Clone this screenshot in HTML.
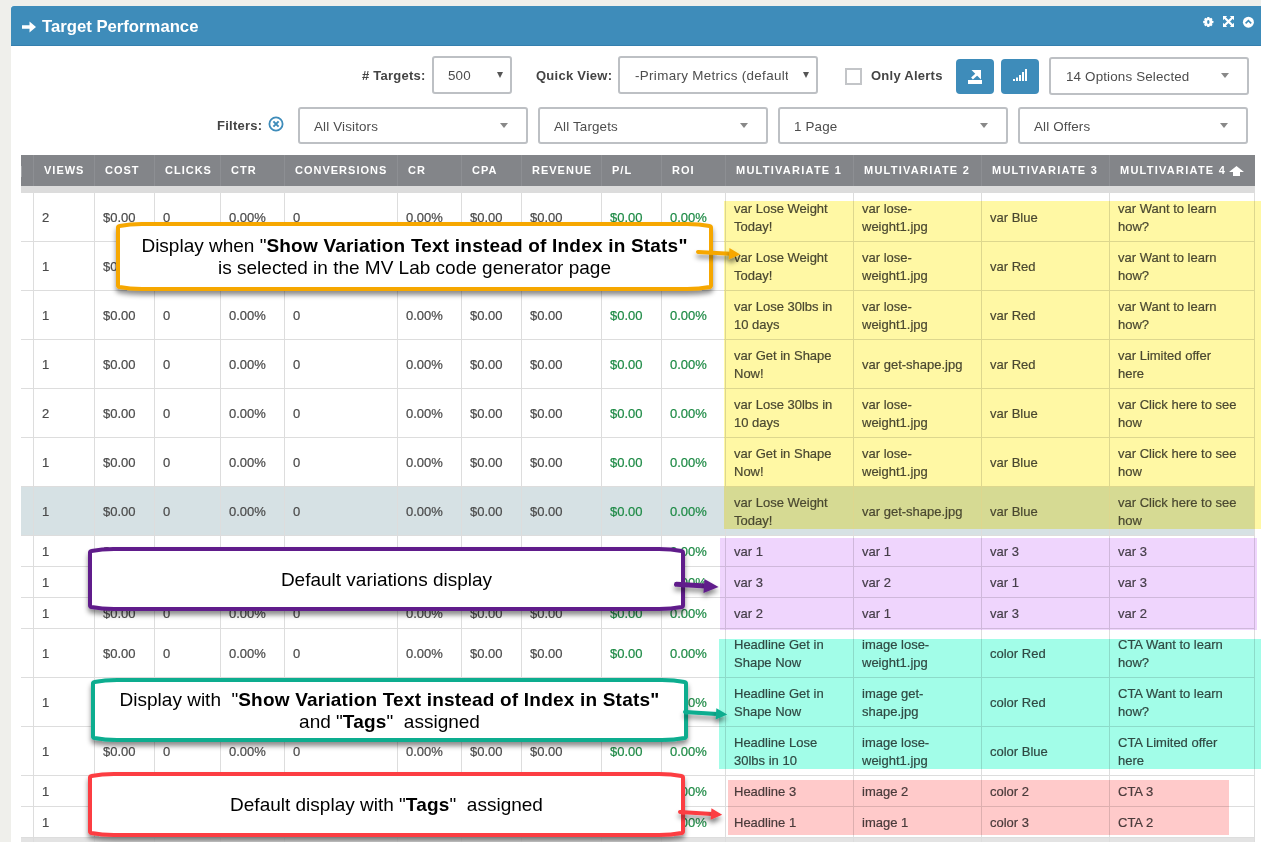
<!DOCTYPE html>
<html><head><meta charset="utf-8"><title>Target Performance</title>
<style>
*{box-sizing:border-box;margin:0;padding:0}
html,body{width:1261px;height:842px;overflow:hidden;background:#efefeb;font-family:"Liberation Sans",Arial,sans-serif;}
.abs{position:absolute}
#panel{position:absolute;left:11px;top:6px;width:1250px;height:836px;background:#fff}
#hdr{position:absolute;left:11px;top:6px;width:1250px;height:40px;background:#3e8cba;border-radius:3px 0 0 0;border-bottom:1px solid #357fae}
#title{position:absolute;left:42px;top:17px;color:#fff;font-weight:bold;font-size:16.7px;line-height:20px;white-space:nowrap}
.lbl{position:absolute;font-weight:bold;font-size:13px;color:#444;white-space:nowrap;line-height:16px;letter-spacing:0.25px}
.sel{position:absolute;border:2px solid #bdc0c4;border-radius:3px;background:#fff;font-size:13.4px;color:#4d4d4d;white-space:nowrap;overflow:hidden;line-height:16px}
.sel span{position:absolute;top:10px;letter-spacing:0.15px}
.caret{position:absolute;width:0;height:0;border-left:4px solid transparent;border-right:4px solid transparent;border-top:5px solid #888}
.caret2{position:absolute;width:0;height:0;border-left:3.5px solid transparent;border-right:3.5px solid transparent;border-top:6px solid #555}
.btn{position:absolute;background:#3e8cba;border-radius:4px}
#thead{position:absolute;left:21px;top:155px;width:1234px;height:31px;background:#838589}
#strip{position:absolute;left:21px;top:186px;width:1234px;height:7px;background:#dcdcdc}
.th{position:absolute;top:155px;height:31px;line-height:31px;color:#fff;font-weight:bold;font-size:11px;letter-spacing:1px;white-space:nowrap}
.hsep{position:absolute;top:155px;width:1px;height:31px;background:#8d8f93}
.vl{position:absolute;width:1px;background:#dddddd}
.hl{position:absolute;height:1px;background:#dddddd}
.td{position:absolute;display:flex;align-items:center;font-size:13px;line-height:18px;color:#4a4a4a;white-space:nowrap;-webkit-text-stroke:0.2px}
.g{color:#1d8a45}
.ov{position:absolute;mix-blend-mode:multiply}
.co{position:absolute;text-align:center;color:#000;font-size:19px;line-height:22px;white-space:nowrap}
.co b{font-weight:bold;letter-spacing:0.2px}
</style></head><body>
<div id="panel"></div>
<div id="hdr"></div>

<svg class="abs" style="left:21px;top:20px" width="17" height="14" viewBox="0 0 17 14">
<path d="M1 5.2 H8.5 V1.5 L15 7 L8.5 12.5 V8.8 H1 Z" fill="#fff"/></svg>
<div id="title">Target Performance</div>
<svg class="abs" style="left:1202px;top:16px" width="13" height="13" viewBox="0 0 13 13">
<g fill="#fff"><circle cx="6.3" cy="6" r="3.9"/>
<rect x="5.1" y="0.9" width="2.4" height="10.2" rx="0.5"/>
<rect x="5.1" y="0.9" width="2.4" height="10.2" rx="0.5" transform="rotate(45 6.3 6)"/>
<rect x="5.1" y="0.9" width="2.4" height="10.2" rx="0.5" transform="rotate(90 6.3 6)"/>
<rect x="5.1" y="0.9" width="2.4" height="10.2" rx="0.5" transform="rotate(135 6.3 6)"/></g>
<ellipse cx="6.3" cy="6" rx="1.2" ry="1.9" fill="#3e8cba"/></svg>
<svg class="abs" style="left:1223px;top:16px" width="11" height="11" viewBox="0 0 11 11">
<g fill="#fff"><path d="M0 0 H4.2 L0 4.2Z"/><path d="M11 0 V4.2 L6.8 0Z"/><path d="M0 11 V6.8 L4.2 11Z"/><path d="M11 11 H6.8 L11 6.8Z"/></g>
<path d="M1.5 1.5 L9.5 9.5 M9.5 1.5 L1.5 9.5" stroke="#fff" stroke-width="2.3"/></svg>
<svg class="abs" style="left:1242px;top:16px" width="13" height="13" viewBox="0 0 13 13">
<circle cx="6.4" cy="6.2" r="5.5" fill="#fff"/>
<path d="M3.6 7.4 L6.4 4.6 L9.2 7.4" stroke="#3e8cba" stroke-width="1.6" fill="none"/></svg>

<div class="lbl" style="left:362px;top:68px"># Targets:</div>
<div class="sel" style="left:432px;top:56px;width:80px;height:38px"><span style="left:14px">500</span></div>
<div class="caret2" style="left:497px;top:72px"></div>
<div class="lbl" style="left:536px;top:68px">Quick View:</div>
<div class="sel" style="left:618px;top:56px;width:200px;height:38px"><span style="left:15px;width:153px;overflow:hidden;letter-spacing:0.33px">-Primary Metrics (default)</span></div>
<div class="caret2" style="left:803px;top:72px"></div>
<div class="abs" style="left:845px;top:68px;width:17px;height:17px;border:2px solid #c3c5c8;background:#fff"></div>
<div class="lbl" style="left:871px;top:68px">Only Alerts</div>
<div class="btn" style="left:956px;top:59px;width:38px;height:35px"></div>
<svg class="abs" style="left:966px;top:67px" width="18" height="18" viewBox="0 0 18 18">
<path d="M2 13 H16 V17 H2Z" fill="#fff"/><path d="M5.5 3 H15 V12.5Z" fill="#fff"/>
<path d="M11.5 6.5 L6 11.5" stroke="#fff" stroke-width="2.6"/></svg>
<div class="btn" style="left:1001px;top:59px;width:38px;height:35px"></div>
<svg class="abs" style="left:1012px;top:68px" width="16" height="14" viewBox="0 0 16 14">
<g fill="#fff"><rect x="1" y="11" width="2" height="2"/><rect x="4" y="9.5" width="2" height="3.5"/>
<rect x="7" y="7" width="2" height="6"/><rect x="10" y="4" width="2" height="9"/><rect x="13" y="1" width="2" height="12"/></g></svg>

<div class="sel" style="left:1049px;top:57px;width:200px;height:38px"><span style="left:15px">14 Options Selected</span></div>
<div class="caret" style="left:1221px;top:73px"></div>
<div class="lbl" style="left:217px;top:118px">Filters:</div>
<svg class="abs" style="left:268px;top:116px" width="16" height="16" viewBox="0 0 16 16">
<circle cx="8" cy="8" r="6.6" stroke="#3e8cba" stroke-width="1.8" fill="none"/>
<path d="M5.4 5.4 L10.6 10.6 M10.6 5.4 L5.4 10.6" stroke="#3e8cba" stroke-width="2"/></svg>
<div class="sel" style="left:298px;top:107px;width:230px;height:37px"><span style="left:14px">All Visitors</span></div>
<div class="caret" style="left:500px;top:123px"></div>
<div class="sel" style="left:538px;top:107px;width:230px;height:37px"><span style="left:14px">All Targets</span></div>
<div class="caret" style="left:740px;top:123px"></div>
<div class="sel" style="left:778px;top:107px;width:230px;height:37px"><span style="left:14px">1 Page</span></div>
<div class="caret" style="left:980px;top:123px"></div>
<div class="sel" style="left:1018px;top:107px;width:230px;height:37px"><span style="left:14px">All Offers</span></div>
<div class="caret" style="left:1220px;top:123px"></div>
<div id="thead"></div><div id="strip"></div><div class="abs" style="left:21px;top:166px;width:1px;height:11px;background:#a3a5a8"></div>
<div class="hsep" style="left:33px"></div>
<div class="hsep" style="left:94px"></div>
<div class="hsep" style="left:154px"></div>
<div class="hsep" style="left:220px"></div>
<div class="hsep" style="left:284px"></div>
<div class="hsep" style="left:397px"></div>
<div class="hsep" style="left:461px"></div>
<div class="hsep" style="left:521px"></div>
<div class="hsep" style="left:601px"></div>
<div class="hsep" style="left:661px"></div>
<div class="hsep" style="left:725px"></div>
<div class="hsep" style="left:853px"></div>
<div class="hsep" style="left:981px"></div>
<div class="hsep" style="left:1109px"></div>
<div class="th" style="left:44px">VIEWS</div>
<div class="th" style="left:105px">COST</div>
<div class="th" style="left:165px">CLICKS</div>
<div class="th" style="left:231px">CTR</div>
<div class="th" style="left:295px">CONVERSIONS</div>
<div class="th" style="left:408px">CR</div>
<div class="th" style="left:472px">CPA</div>
<div class="th" style="left:532px">REVENUE</div>
<div class="th" style="left:612px">P/L</div>
<div class="th" style="left:672px">ROI</div>
<div class="th" style="left:736px;letter-spacing:1.25px">MULTIVARIATE 1</div>
<div class="th" style="left:864px;letter-spacing:1.25px">MULTIVARIATE 2</div>
<div class="th" style="left:992px;letter-spacing:1.25px">MULTIVARIATE 3</div>
<div class="th" style="left:1120px;letter-spacing:1.25px">MULTIVARIATE 4</div>
<svg class="abs" style="left:1229px;top:166px" width="15" height="10" viewBox="0 0 15 10">
<path d="M7.5 0 L15 6 H11 V10 H4 V6 H0Z" fill="#fff"/></svg>
<div class="abs" style="left:21px;top:487px;width:1233px;height:48px;background:#d6e1e4"></div>
<div class="abs" style="left:21px;top:837px;width:1234px;height:5px;background:#e3e3e3"></div>
<div class="hl" style="left:21px;top:241px;width:1234px"></div>
<div class="hl" style="left:21px;top:290px;width:1234px"></div>
<div class="hl" style="left:21px;top:339px;width:1234px"></div>
<div class="hl" style="left:21px;top:388px;width:1234px"></div>
<div class="hl" style="left:21px;top:437px;width:1234px"></div>
<div class="hl" style="left:21px;top:486px;width:1234px"></div>
<div class="hl" style="left:21px;top:535px;width:1234px"></div>
<div class="hl" style="left:21px;top:566px;width:1234px"></div>
<div class="hl" style="left:21px;top:597px;width:1234px"></div>
<div class="hl" style="left:21px;top:628px;width:1234px"></div>
<div class="hl" style="left:21px;top:677px;width:1234px"></div>
<div class="hl" style="left:21px;top:726px;width:1234px"></div>
<div class="hl" style="left:21px;top:775px;width:1234px"></div>
<div class="hl" style="left:21px;top:806px;width:1234px"></div>
<div class="hl" style="left:21px;top:837px;width:1234px"></div>
<div class="vl" style="left:33px;top:192px;height:650px"></div>
<div class="vl" style="left:94px;top:192px;height:650px"></div>
<div class="vl" style="left:154px;top:192px;height:650px"></div>
<div class="vl" style="left:220px;top:192px;height:650px"></div>
<div class="vl" style="left:284px;top:192px;height:650px"></div>
<div class="vl" style="left:397px;top:192px;height:650px"></div>
<div class="vl" style="left:461px;top:192px;height:650px"></div>
<div class="vl" style="left:521px;top:192px;height:650px"></div>
<div class="vl" style="left:601px;top:192px;height:650px"></div>
<div class="vl" style="left:661px;top:192px;height:650px"></div>
<div class="vl" style="left:725px;top:192px;height:650px"></div>
<div class="vl" style="left:853px;top:192px;height:650px"></div>
<div class="vl" style="left:981px;top:192px;height:650px"></div>
<div class="vl" style="left:1109px;top:192px;height:650px"></div>
<div class="vl" style="left:1254px;top:192px;height:650px"></div>
<div class="td" style="left:42px;top:194px;height:48px">2</div>
<div class="td" style="left:103px;top:194px;height:48px">$0.00</div>
<div class="td" style="left:163px;top:194px;height:48px">0</div>
<div class="td" style="left:229px;top:194px;height:48px">0.00%</div>
<div class="td" style="left:293px;top:194px;height:48px">0</div>
<div class="td" style="left:406px;top:194px;height:48px">0.00%</div>
<div class="td" style="left:470px;top:194px;height:48px">$0.00</div>
<div class="td" style="left:530px;top:194px;height:48px">$0.00</div>
<div class="td g" style="left:610px;top:194px;height:48px">$0.00</div>
<div class="td g" style="left:670px;top:194px;height:48px">0.00%</div>
<div class="td" style="left:734px;top:194px;height:48px">var Lose Weight<br>Today!</div>
<div class="td" style="left:862px;top:194px;height:48px">var lose-<br>weight1.jpg</div>
<div class="td" style="left:990px;top:194px;height:48px">var Blue</div>
<div class="td" style="left:1118px;top:194px;height:48px">var Want to learn<br>how?</div>
<div class="td" style="left:42px;top:243px;height:48px">1</div>
<div class="td" style="left:103px;top:243px;height:48px">$0.00</div>
<div class="td" style="left:163px;top:243px;height:48px">0</div>
<div class="td" style="left:229px;top:243px;height:48px">0.00%</div>
<div class="td" style="left:293px;top:243px;height:48px">0</div>
<div class="td" style="left:406px;top:243px;height:48px">0.00%</div>
<div class="td" style="left:470px;top:243px;height:48px">$0.00</div>
<div class="td" style="left:530px;top:243px;height:48px">$0.00</div>
<div class="td g" style="left:610px;top:243px;height:48px">$0.00</div>
<div class="td g" style="left:670px;top:243px;height:48px">0.00%</div>
<div class="td" style="left:734px;top:243px;height:48px">var Lose Weight<br>Today!</div>
<div class="td" style="left:862px;top:243px;height:48px">var lose-<br>weight1.jpg</div>
<div class="td" style="left:990px;top:243px;height:48px">var Red</div>
<div class="td" style="left:1118px;top:243px;height:48px">var Want to learn<br>how?</div>
<div class="td" style="left:42px;top:292px;height:48px">1</div>
<div class="td" style="left:103px;top:292px;height:48px">$0.00</div>
<div class="td" style="left:163px;top:292px;height:48px">0</div>
<div class="td" style="left:229px;top:292px;height:48px">0.00%</div>
<div class="td" style="left:293px;top:292px;height:48px">0</div>
<div class="td" style="left:406px;top:292px;height:48px">0.00%</div>
<div class="td" style="left:470px;top:292px;height:48px">$0.00</div>
<div class="td" style="left:530px;top:292px;height:48px">$0.00</div>
<div class="td g" style="left:610px;top:292px;height:48px">$0.00</div>
<div class="td g" style="left:670px;top:292px;height:48px">0.00%</div>
<div class="td" style="left:734px;top:292px;height:48px">var Lose 30lbs in<br>10 days</div>
<div class="td" style="left:862px;top:292px;height:48px">var lose-<br>weight1.jpg</div>
<div class="td" style="left:990px;top:292px;height:48px">var Red</div>
<div class="td" style="left:1118px;top:292px;height:48px">var Want to learn<br>how?</div>
<div class="td" style="left:42px;top:341px;height:48px">1</div>
<div class="td" style="left:103px;top:341px;height:48px">$0.00</div>
<div class="td" style="left:163px;top:341px;height:48px">0</div>
<div class="td" style="left:229px;top:341px;height:48px">0.00%</div>
<div class="td" style="left:293px;top:341px;height:48px">0</div>
<div class="td" style="left:406px;top:341px;height:48px">0.00%</div>
<div class="td" style="left:470px;top:341px;height:48px">$0.00</div>
<div class="td" style="left:530px;top:341px;height:48px">$0.00</div>
<div class="td g" style="left:610px;top:341px;height:48px">$0.00</div>
<div class="td g" style="left:670px;top:341px;height:48px">0.00%</div>
<div class="td" style="left:734px;top:341px;height:48px">var Get in Shape<br>Now!</div>
<div class="td" style="left:862px;top:341px;height:48px">var get-shape.jpg</div>
<div class="td" style="left:990px;top:341px;height:48px">var Red</div>
<div class="td" style="left:1118px;top:341px;height:48px">var Limited offer<br>here</div>
<div class="td" style="left:42px;top:390px;height:48px">2</div>
<div class="td" style="left:103px;top:390px;height:48px">$0.00</div>
<div class="td" style="left:163px;top:390px;height:48px">0</div>
<div class="td" style="left:229px;top:390px;height:48px">0.00%</div>
<div class="td" style="left:293px;top:390px;height:48px">0</div>
<div class="td" style="left:406px;top:390px;height:48px">0.00%</div>
<div class="td" style="left:470px;top:390px;height:48px">$0.00</div>
<div class="td" style="left:530px;top:390px;height:48px">$0.00</div>
<div class="td g" style="left:610px;top:390px;height:48px">$0.00</div>
<div class="td g" style="left:670px;top:390px;height:48px">0.00%</div>
<div class="td" style="left:734px;top:390px;height:48px">var Lose 30lbs in<br>10 days</div>
<div class="td" style="left:862px;top:390px;height:48px">var lose-<br>weight1.jpg</div>
<div class="td" style="left:990px;top:390px;height:48px">var Blue</div>
<div class="td" style="left:1118px;top:390px;height:48px">var Click here to see<br>how</div>
<div class="td" style="left:42px;top:439px;height:48px">1</div>
<div class="td" style="left:103px;top:439px;height:48px">$0.00</div>
<div class="td" style="left:163px;top:439px;height:48px">0</div>
<div class="td" style="left:229px;top:439px;height:48px">0.00%</div>
<div class="td" style="left:293px;top:439px;height:48px">0</div>
<div class="td" style="left:406px;top:439px;height:48px">0.00%</div>
<div class="td" style="left:470px;top:439px;height:48px">$0.00</div>
<div class="td" style="left:530px;top:439px;height:48px">$0.00</div>
<div class="td g" style="left:610px;top:439px;height:48px">$0.00</div>
<div class="td g" style="left:670px;top:439px;height:48px">0.00%</div>
<div class="td" style="left:734px;top:439px;height:48px">var Get in Shape<br>Now!</div>
<div class="td" style="left:862px;top:439px;height:48px">var lose-<br>weight1.jpg</div>
<div class="td" style="left:990px;top:439px;height:48px">var Blue</div>
<div class="td" style="left:1118px;top:439px;height:48px">var Click here to see<br>how</div>
<div class="td" style="left:42px;top:488px;height:48px">1</div>
<div class="td" style="left:103px;top:488px;height:48px">$0.00</div>
<div class="td" style="left:163px;top:488px;height:48px">0</div>
<div class="td" style="left:229px;top:488px;height:48px">0.00%</div>
<div class="td" style="left:293px;top:488px;height:48px">0</div>
<div class="td" style="left:406px;top:488px;height:48px">0.00%</div>
<div class="td" style="left:470px;top:488px;height:48px">$0.00</div>
<div class="td" style="left:530px;top:488px;height:48px">$0.00</div>
<div class="td g" style="left:610px;top:488px;height:48px">$0.00</div>
<div class="td g" style="left:670px;top:488px;height:48px">0.00%</div>
<div class="td" style="left:734px;top:488px;height:48px">var Lose Weight<br>Today!</div>
<div class="td" style="left:862px;top:488px;height:48px">var get-shape.jpg</div>
<div class="td" style="left:990px;top:488px;height:48px">var Blue</div>
<div class="td" style="left:1118px;top:488px;height:48px">var Click here to see<br>how</div>
<div class="td" style="left:42px;top:537px;height:30px">1</div>
<div class="td" style="left:103px;top:537px;height:30px">$0.00</div>
<div class="td" style="left:163px;top:537px;height:30px">0</div>
<div class="td" style="left:229px;top:537px;height:30px">0.00%</div>
<div class="td" style="left:293px;top:537px;height:30px">0</div>
<div class="td" style="left:406px;top:537px;height:30px">0.00%</div>
<div class="td" style="left:470px;top:537px;height:30px">$0.00</div>
<div class="td" style="left:530px;top:537px;height:30px">$0.00</div>
<div class="td g" style="left:610px;top:537px;height:30px">$0.00</div>
<div class="td g" style="left:670px;top:537px;height:30px">0.00%</div>
<div class="td" style="left:734px;top:537px;height:30px">var 1</div>
<div class="td" style="left:862px;top:537px;height:30px">var 1</div>
<div class="td" style="left:990px;top:537px;height:30px">var 3</div>
<div class="td" style="left:1118px;top:537px;height:30px">var 3</div>
<div class="td" style="left:42px;top:568px;height:30px">1</div>
<div class="td" style="left:103px;top:568px;height:30px">$0.00</div>
<div class="td" style="left:163px;top:568px;height:30px">0</div>
<div class="td" style="left:229px;top:568px;height:30px">0.00%</div>
<div class="td" style="left:293px;top:568px;height:30px">0</div>
<div class="td" style="left:406px;top:568px;height:30px">0.00%</div>
<div class="td" style="left:470px;top:568px;height:30px">$0.00</div>
<div class="td" style="left:530px;top:568px;height:30px">$0.00</div>
<div class="td g" style="left:610px;top:568px;height:30px">$0.00</div>
<div class="td g" style="left:670px;top:568px;height:30px">0.00%</div>
<div class="td" style="left:734px;top:568px;height:30px">var 3</div>
<div class="td" style="left:862px;top:568px;height:30px">var 2</div>
<div class="td" style="left:990px;top:568px;height:30px">var 1</div>
<div class="td" style="left:1118px;top:568px;height:30px">var 3</div>
<div class="td" style="left:42px;top:599px;height:30px">1</div>
<div class="td" style="left:103px;top:599px;height:30px">$0.00</div>
<div class="td" style="left:163px;top:599px;height:30px">0</div>
<div class="td" style="left:229px;top:599px;height:30px">0.00%</div>
<div class="td" style="left:293px;top:599px;height:30px">0</div>
<div class="td" style="left:406px;top:599px;height:30px">0.00%</div>
<div class="td" style="left:470px;top:599px;height:30px">$0.00</div>
<div class="td" style="left:530px;top:599px;height:30px">$0.00</div>
<div class="td g" style="left:610px;top:599px;height:30px">$0.00</div>
<div class="td g" style="left:670px;top:599px;height:30px">0.00%</div>
<div class="td" style="left:734px;top:599px;height:30px">var 2</div>
<div class="td" style="left:862px;top:599px;height:30px">var 1</div>
<div class="td" style="left:990px;top:599px;height:30px">var 3</div>
<div class="td" style="left:1118px;top:599px;height:30px">var 2</div>
<div class="td" style="left:42px;top:630px;height:48px">1</div>
<div class="td" style="left:103px;top:630px;height:48px">$0.00</div>
<div class="td" style="left:163px;top:630px;height:48px">0</div>
<div class="td" style="left:229px;top:630px;height:48px">0.00%</div>
<div class="td" style="left:293px;top:630px;height:48px">0</div>
<div class="td" style="left:406px;top:630px;height:48px">0.00%</div>
<div class="td" style="left:470px;top:630px;height:48px">$0.00</div>
<div class="td" style="left:530px;top:630px;height:48px">$0.00</div>
<div class="td g" style="left:610px;top:630px;height:48px">$0.00</div>
<div class="td g" style="left:670px;top:630px;height:48px">0.00%</div>
<div class="td" style="left:734px;top:630px;height:48px">Headline Get in<br>Shape Now</div>
<div class="td" style="left:862px;top:630px;height:48px">image lose-<br>weight1.jpg</div>
<div class="td" style="left:990px;top:630px;height:48px">color Red</div>
<div class="td" style="left:1118px;top:630px;height:48px">CTA Want to learn<br>how?</div>
<div class="td" style="left:42px;top:679px;height:48px">1</div>
<div class="td" style="left:103px;top:679px;height:48px">$0.00</div>
<div class="td" style="left:163px;top:679px;height:48px">0</div>
<div class="td" style="left:229px;top:679px;height:48px">0.00%</div>
<div class="td" style="left:293px;top:679px;height:48px">0</div>
<div class="td" style="left:406px;top:679px;height:48px">0.00%</div>
<div class="td" style="left:470px;top:679px;height:48px">$0.00</div>
<div class="td" style="left:530px;top:679px;height:48px">$0.00</div>
<div class="td g" style="left:610px;top:679px;height:48px">$0.00</div>
<div class="td g" style="left:670px;top:679px;height:48px">0.00%</div>
<div class="td" style="left:734px;top:679px;height:48px">Headline Get in<br>Shape Now</div>
<div class="td" style="left:862px;top:679px;height:48px">image get-<br>shape.jpg</div>
<div class="td" style="left:990px;top:679px;height:48px">color Red</div>
<div class="td" style="left:1118px;top:679px;height:48px">CTA Want to learn<br>how?</div>
<div class="td" style="left:42px;top:728px;height:48px">1</div>
<div class="td" style="left:103px;top:728px;height:48px">$0.00</div>
<div class="td" style="left:163px;top:728px;height:48px">0</div>
<div class="td" style="left:229px;top:728px;height:48px">0.00%</div>
<div class="td" style="left:293px;top:728px;height:48px">0</div>
<div class="td" style="left:406px;top:728px;height:48px">0.00%</div>
<div class="td" style="left:470px;top:728px;height:48px">$0.00</div>
<div class="td" style="left:530px;top:728px;height:48px">$0.00</div>
<div class="td g" style="left:610px;top:728px;height:48px">$0.00</div>
<div class="td g" style="left:670px;top:728px;height:48px">0.00%</div>
<div class="td" style="left:734px;top:728px;height:48px">Headline Lose<br>30lbs in 10</div>
<div class="td" style="left:862px;top:728px;height:48px">image lose-<br>weight1.jpg</div>
<div class="td" style="left:990px;top:728px;height:48px">color Blue</div>
<div class="td" style="left:1118px;top:728px;height:48px">CTA Limited offer<br>here</div>
<div class="td" style="left:42px;top:777px;height:30px">1</div>
<div class="td" style="left:103px;top:777px;height:30px">$0.00</div>
<div class="td" style="left:163px;top:777px;height:30px">0</div>
<div class="td" style="left:229px;top:777px;height:30px">0.00%</div>
<div class="td" style="left:293px;top:777px;height:30px">0</div>
<div class="td" style="left:406px;top:777px;height:30px">0.00%</div>
<div class="td" style="left:470px;top:777px;height:30px">$0.00</div>
<div class="td" style="left:530px;top:777px;height:30px">$0.00</div>
<div class="td g" style="left:610px;top:777px;height:30px">$0.00</div>
<div class="td g" style="left:670px;top:777px;height:30px">0.00%</div>
<div class="td" style="left:734px;top:777px;height:30px">Headline 3</div>
<div class="td" style="left:862px;top:777px;height:30px">image 2</div>
<div class="td" style="left:990px;top:777px;height:30px">color 2</div>
<div class="td" style="left:1118px;top:777px;height:30px">CTA 3</div>
<div class="td" style="left:42px;top:808px;height:30px">1</div>
<div class="td" style="left:103px;top:808px;height:30px">$0.00</div>
<div class="td" style="left:163px;top:808px;height:30px">0</div>
<div class="td" style="left:229px;top:808px;height:30px">0.00%</div>
<div class="td" style="left:293px;top:808px;height:30px">0</div>
<div class="td" style="left:406px;top:808px;height:30px">0.00%</div>
<div class="td" style="left:470px;top:808px;height:30px">$0.00</div>
<div class="td" style="left:530px;top:808px;height:30px">$0.00</div>
<div class="td g" style="left:610px;top:808px;height:30px">$0.00</div>
<div class="td g" style="left:670px;top:808px;height:30px">0.00%</div>
<div class="td" style="left:734px;top:808px;height:30px">Headline 1</div>
<div class="td" style="left:862px;top:808px;height:30px">image 1</div>
<div class="td" style="left:990px;top:808px;height:30px">color 3</div>
<div class="td" style="left:1118px;top:808px;height:30px">CTA 2</div>
<div class="ov" style="left:724px;top:201px;width:537px;height:328px;background:#fff8a4"></div>
<div class="ov" style="left:720px;top:538px;width:537px;height:92px;background:#efd5fd"></div>
<div class="ov" style="left:719px;top:639px;width:542px;height:130px;background:#a2fde8"></div>
<div class="ov" style="left:728px;top:780px;width:501px;height:55px;background:#ffcaca"></div>
<svg class="abs" style="left:0;top:0" width="1261" height="842" viewBox="0 0 1261 842">
<defs><filter id="sh" filterUnits="userSpaceOnUse" x="0" y="0" width="1261" height="842"><feGaussianBlur in="SourceAlpha" stdDeviation="2.5"/><feOffset dx="0" dy="4" result="b"/><feFlood flood-color="#000" flood-opacity="0.45"/><feComposite in2="b" operator="in"/><feMerge><feMergeNode/><feMergeNode in="SourceGraphic"/></feMerge></filter></defs>
<path d="M142.0,224.0 H687.0 C699.0,224.2 705.0,225.2 709.5,226.0 Q711.0,226.2 711.0,227.8 V285.2 Q711.0,286.8 709.5,287.0 C705.0,287.8 699.0,288.8 687.0,289.0 H142.0 C130.0,288.8 124.0,287.8 119.5,287.0 Q118.0,286.8 118.0,285.2 V227.8 Q118.0,226.2 119.5,226.0 C124.0,225.2 130.0,224.2 142.0,224.0 Z" fill="#fff" stroke="#f6a700" stroke-width="4" filter="url(#sh)"/>
<path d="M698,251.9 L730.12,253.80" stroke="#f6a700" stroke-width="4" stroke-linecap="round" fill="none" filter="url(#sh)"/><path d="M740.3,254.4 L728.78,259.43 L729.46,248.05 Z" fill="#f6a700" filter="url(#sh)"/>
<path d="M114.0,549.0 H659.0 C671.0,549.2 677.0,550.2 681.5,551.0 Q683.0,551.2 683.0,552.8 V605.2 Q683.0,606.8 681.5,607.0 C677.0,607.8 671.0,608.8 659.0,609.0 H114.0 C102.0,608.8 96.0,607.8 91.5,607.0 Q90.0,606.8 90.0,605.2 V552.8 Q90.0,551.2 91.5,551.0 C96.0,550.2 102.0,549.2 114.0,549.0 Z" fill="#fff" stroke="#611f8b" stroke-width="4" filter="url(#sh)"/>
<path d="M676.5,584.3 L704.93,586.06" stroke="#611f8b" stroke-width="5" stroke-linecap="round" fill="none" filter="url(#sh)"/><path d="M718.6,586.9 L703.49,593.08 L704.37,578.91 Z" fill="#611f8b" filter="url(#sh)"/>
<path d="M117.0,680.0 H662.0 C674.0,680.2 680.0,681.2 684.5,682.0 Q686.0,682.2 686.0,683.8 V736.2 Q686.0,737.8 684.5,738.0 C680.0,738.8 674.0,739.8 662.0,740.0 H117.0 C105.0,739.8 99.0,738.8 94.5,738.0 Q93.0,737.8 93.0,736.2 V683.8 Q93.0,682.2 94.5,682.0 C99.0,681.2 105.0,680.2 117.0,680.0 Z" fill="#fff" stroke="#08ad8f" stroke-width="4" filter="url(#sh)"/>
<path d="M685,711.9 L717.02,713.95" stroke="#08ad8f" stroke-width="4" stroke-linecap="round" fill="none" filter="url(#sh)"/><path d="M727.2,714.6 L715.66,719.57 L716.39,708.20 Z" fill="#08ad8f" filter="url(#sh)"/>
<path d="M114.0,774.0 H659.0 C671.0,774.2 677.0,775.2 681.5,776.0 Q683.0,776.2 683.0,777.8 V831.2 Q683.0,832.8 681.5,833.0 C677.0,833.8 671.0,834.8 659.0,835.0 H114.0 C102.0,834.8 96.0,833.8 91.5,833.0 Q90.0,832.8 90.0,831.2 V777.8 Q90.0,776.2 91.5,776.0 C96.0,775.2 102.0,774.2 114.0,774.0 Z" fill="#fff" stroke="#fc3e42" stroke-width="4" filter="url(#sh)"/>
<path d="M680,811.9 L712.02,814.02" stroke="#fc3e42" stroke-width="4" stroke-linecap="round" fill="none" filter="url(#sh)"/><path d="M722.2,814.7 L710.65,819.65 L711.40,808.27 Z" fill="#fc3e42" filter="url(#sh)"/>
</svg>
<div class="co" style="left:116px;top:235px;width:597px">Display when "<b>Show Variation Text instead of Index in Stats"</b><br>is selected in the MV Lab code generator page</div>
<div class="co" style="left:88px;top:569px;width:597px">Default variations display</div>
<div class="co" style="left:91px;top:689px;width:597px">Display with &nbsp;"<b>Show Variation Text instead of Index in Stats"</b><br>and "<b>Tags</b>" &nbsp;assigned</div>
<div class="co" style="left:88px;top:794px;width:597px">Default display with "<b>Tags</b>" &nbsp;assigned</div>
</body></html>
